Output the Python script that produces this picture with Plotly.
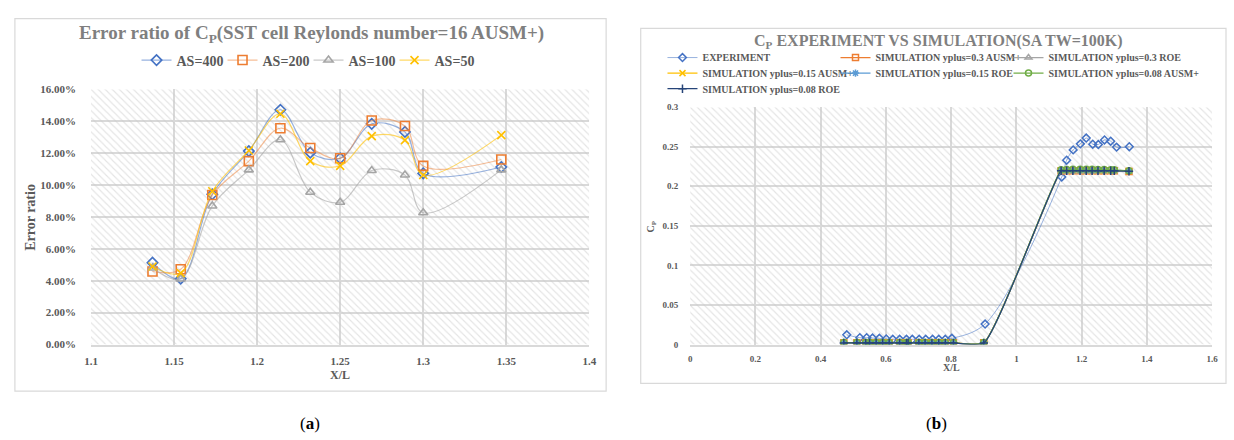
import plotly.graph_objects as go

W, H = 1234, 440

# ---------------- (a) Error ratio of Cp ----------------
x_a = [1.137, 1.154, 1.173, 1.195, 1.214, 1.232, 1.250, 1.269, 1.289, 1.300, 1.347]
as400 = [5.13, 4.13, 9.42, 12.13, 14.72, 12.03, 11.68, 13.84, 13.33, 10.73, 11.13]
as200 = [4.58, 4.72, 9.38, 11.50, 13.56, 12.32, 11.68, 14.05, 13.70, 11.20, 11.60]
as100 = [4.80, 4.11, 8.69, 10.95, 12.84, 9.55, 8.92, 10.91, 10.63, 8.26, 10.95]
as50 = [4.89, 4.48, 9.61, 12.17, 14.47, 11.50, 11.20, 13.07, 12.82, 10.63, 13.13]
names_a = ["AS=400", "AS=200", "AS=100", "AS=50"]
xrange_a = [1.1, 1.4]
yrange_a = [0.0, 0.16]

# ---------------- (b) Cp experiment vs simulation ----------------
x_exp = [0.480, 0.520, 0.541, 0.559, 0.580, 0.601, 0.621, 0.642, 0.663, 0.681,
         0.702, 0.722, 0.743, 0.762, 0.782, 0.802, 0.904,
         1.139, 1.154, 1.174, 1.196, 1.214, 1.234, 1.251, 1.270, 1.289, 1.307, 1.346]
cp_exp = [0.0123, 0.0086, 0.0086, 0.0082, 0.0078, 0.0070, 0.0066, 0.0066, 0.0066, 0.0066,
          0.0066, 0.0066, 0.0066, 0.0066, 0.0066, 0.0078, 0.0259,
          0.2118, 0.2330, 0.2460, 0.2536, 0.2610, 0.2532, 0.2528, 0.2585, 0.2570, 0.2495, 0.2500]

x_sim = [0.471, 0.511, 0.538, 0.550, 0.570, 0.590, 0.610, 0.642, 0.663, 0.668,
         0.701, 0.720, 0.741, 0.762, 0.782, 0.807, 0.900,
         1.137, 1.154, 1.173, 1.195, 1.214, 1.232, 1.250, 1.269, 1.289, 1.300, 1.345]
cp_y03_ausm = [0.0022, 0.0022, 0.0022, 0.0022, 0.0022, 0.0022, 0.0022, 0.0022, 0.0022, 0.0022,
               0.0022, 0.0022, 0.0022, 0.0022, 0.0022, 0.0022, 0.0022,
               0.2196, 0.2196, 0.2197, 0.2197, 0.2197, 0.2197, 0.2196, 0.2196, 0.2195, 0.2195, 0.2188]
cp_y03_roe = [0.0020, 0.0020, 0.0020, 0.0020, 0.0020, 0.0020, 0.0020, 0.0020, 0.0020, 0.0020,
              0.0020, 0.0020, 0.0020, 0.0020, 0.0020, 0.0020, 0.0020,
              0.2190, 0.2191, 0.2191, 0.2191, 0.2191, 0.2191, 0.2190, 0.2190, 0.2190, 0.2189, 0.2185]
cp_y015_ausm = [0.0021, 0.0021, 0.0021, 0.0021, 0.0021, 0.0021, 0.0021, 0.0021, 0.0021, 0.0021,
                0.0021, 0.0021, 0.0021, 0.0021, 0.0021, 0.0021, 0.0021,
                0.2200, 0.2201, 0.2202, 0.2202, 0.2202, 0.2202, 0.2201, 0.2201, 0.2200, 0.2199, 0.2192]
cp_y015_roe = [0.0020, 0.0020, 0.0020, 0.0020, 0.0020, 0.0020, 0.0020, 0.0020, 0.0020, 0.0020,
               0.0020, 0.0020, 0.0020, 0.0020, 0.0020, 0.0020, 0.0020,
               0.2197, 0.2198, 0.2198, 0.2198, 0.2198, 0.2198, 0.2197, 0.2197, 0.2196, 0.2196, 0.2190]
cp_y008_ausm = [0.0024, 0.0024, 0.0024, 0.0024, 0.0024, 0.0024, 0.0024, 0.0024, 0.0024, 0.0024,
                0.0024, 0.0024, 0.0024, 0.0024, 0.0024, 0.0024, 0.0024,
                0.2208, 0.2212, 0.2215, 0.2215, 0.2216, 0.2215, 0.2213, 0.2212, 0.2210, 0.2208, 0.2196]
cp_y008_roe = [0.0020, 0.0020, 0.0020, 0.0020, 0.0020, 0.0020, 0.0020, 0.0020, 0.0020, 0.0020,
               0.0020, 0.0020, 0.0020, 0.0020, 0.0020, 0.0020, 0.0020,
               0.2196, 0.2197, 0.2197, 0.2197, 0.2197, 0.2197, 0.2196, 0.2196, 0.2196, 0.2195, 0.2190]
names_b = ["EXPERIMENT",
           "SIMULATION yplus=0.3 AUSM+", "SIMULATION yplus=0.3 ROE",
           "SIMULATION yplus=0.15 AUSM+", "SIMULATION yplus=0.15 ROE",
           "SIMULATION yplus=0.08 AUSM+", "SIMULATION yplus=0.08 ROE"]
xrange_b = [0.0, 1.6]
yrange_b = [0.0, 0.3]

# ---------------- styling helpers ----------------
SERIF = "Liberation Serif"
GRID = "#d9d9d9"
TXT = "#595959"
TTL = "#7f7f7f"


def px_x(p):
    return p / W


def px_y(p):
    return 1 - p / H


fig = go.Figure()


def hatch(xa, ya, xr, yr):
    fig.add_trace(go.Scatter(
        x=[xr[0], xr[1], xr[1], xr[0], xr[0]], y=[yr[0], yr[0], yr[1], yr[1], yr[0]],
        xaxis=xa, yaxis=ya, mode="lines", line=dict(width=0), fill="toself",
        fillcolor="rgba(0,0,0,0)",
        fillpattern=dict(shape="\\", fgcolor="#c9c9c9", bgcolor="rgba(0,0,0,0)",
                         size=5, solidity=0.22, fillmode="overlay"),
        hoverinfo="skip", showlegend=False))


# ---- chart (a)
hatch("x", "y", xrange_a, yrange_a)
style_a = [
    ("#4472C4", "rgba(68,114,196,0.55)", "diamond-open", 8),
    ("#ED7D31", "rgba(237,125,49,0.5)", "square-open", 9),
    ("#A5A5A5", "rgba(165,165,165,0.6)", "triangle-up-open", 8),
    ("#FFC000", "rgba(255,192,0,0.6)", "x-thin-open", 8),
]
for name, vals, (mc, lc, sym, sz) in zip(names_a, [as400, as200, as100, as50], style_a):
    fig.add_trace(go.Scatter(
        x=x_a, y=[v / 100 for v in vals], name=name, xaxis="x", yaxis="y",
        mode="lines+markers", line=dict(color=lc, width=1.2, shape="spline", smoothing=1),
        marker=dict(symbol=sym, size=sz, color=mc, line=dict(color=mc, width=1.6)),
        legend="legend"))

# ---- chart (b): one small legend per legend cell (3 columns)
cells_b = ["legend2", "legend3", "legend4", "legend5", "legend6", "legend7", "legend8"]
hatch("x2", "y2", xrange_b, yrange_b)
fig.add_trace(go.Scatter(
    x=x_exp, y=cp_exp, name=names_b[0], xaxis="x2", yaxis="y2", mode="lines+markers",
    line=dict(color="rgba(68,114,196,0.55)", width=1, shape="spline", smoothing=1),
    marker=dict(symbol="diamond-open", size=6, color="#4472C4", line=dict(color="#4472C4", width=1.5)),
    legend=cells_b[0]))
style_b = [
    ("#ED7D31", "square-open", 6),
    ("#A5A5A5", "triangle-up-open", 6),
    ("#FFC000", "x-thin-open", 6),
    ("#5B9BD5", "asterisk-open", 6),
    ("#70AD47", "circle-open", 6),
    ("#264478", "cross-thin-open", 6),
]
sims = [cp_y03_ausm, cp_y03_roe, cp_y015_ausm, cp_y015_roe, cp_y008_ausm, cp_y008_roe]
for name, vals, (c, sym, sz), lg in zip(names_b[1:], sims, style_b, cells_b[1:]):
    fig.add_trace(go.Scatter(
        x=x_sim, y=vals, name=name, xaxis="x2", yaxis="y2", mode="lines+markers",
        line=dict(color=c, width=1.2, shape="spline", smoothing=0.5),
        marker=dict(symbol=sym, size=sz, color=c, line=dict(color=c, width=1.5)),
        legend=lg))

tick_a = dict(family=SERIF, size=11, color=TXT, weight="bold")
tick_b = dict(family=SERIF, size=9, color=TXT, weight="bold")

axis_common = dict(showgrid=True, gridcolor=GRID, gridwidth=1.5, zeroline=False,
                   ticks="", fixedrange=True)

fig.update_layout(
    width=W, height=H, margin=dict(l=0, r=0, t=0, b=0),
    paper_bgcolor="white", plot_bgcolor="white",
    xaxis=dict(domain=[px_x(85), px_x(589)], range=xrange_a, dtick=0.05, tick0=1.1,
               anchor="y", tickfont=tick_a, ticklabelstandoff=6,
               showline=True, linecolor=GRID, linewidth=1.5, **axis_common),
    yaxis=dict(domain=[px_y(348), px_y(85.7)], range=yrange_a, dtick=0.02, tick0=0,
               tickformat=".2%", anchor="x", tickfont=tick_a, ticklabelstandoff=14,
               **axis_common),
    xaxis2=dict(domain=[px_x(691), px_x(1219)], range=xrange_b, dtick=0.2, tick0=0,
                anchor="y2", tickfont=tick_b, ticklabelstandoff=5,
                showline=True, linecolor=GRID, linewidth=1.5, **axis_common),
    yaxis2=dict(domain=[px_y(348), px_y(104)], range=yrange_b, dtick=0.05, tick0=0,
                anchor="x2", tickfont=tick_b, ticklabelstandoff=11, **axis_common),
    legend=dict(orientation="h", x=px_x(131), xanchor="left", y=px_y(56), yanchor="middle",
                font=dict(family=SERIF, size=14, color=TXT, weight="bold"),
                entrywidth=41, entrywidthmode="pixels", bgcolor="rgba(0,0,0,0)",
                itemclick=False, itemdoubleclick=False),
    showlegend=True,
)
leg_b = dict(orientation="h", xanchor="left", yanchor="middle",
             font=dict(family=SERIF, size=10, color=TXT, weight="bold"),
             bgcolor="rgba(0,0,0,0)", itemclick=False, itemdoubleclick=False)
col_x = [663, 838, 1013]
row_y = [53, 69, 85]
for i, lg in enumerate(cells_b):
    fig.update_layout({lg: dict(x=px_x(col_x[i % 3]), y=px_y(row_y[i // 3]), **leg_b)})

# frames around each chart
fig.add_shape(type="rect", xref="paper", yref="paper",
              x0=px_x(8), x1=px_x(606), y0=px_y(396), y1=px_y(13),
              line=dict(color=GRID, width=1.2), layer="below")
fig.add_shape(type="rect", xref="paper", yref="paper",
              x0=px_x(641), x1=px_x(1233), y0=px_y(388), y1=px_y(23),
              line=dict(color=GRID, width=1.2), layer="below")


def ann(text, x, y, size, color, angle=0, bold=True, family=SERIF):
    fig.add_annotation(text=text, xref="paper", yref="paper", x=px_x(x), y=px_y(y),
                       xanchor="center", yanchor="middle", showarrow=False, textangle=angle,
                       font=dict(family=family, size=size, color=color,
                                 weight="bold" if bold else "normal"))


# titles
ann("Error ratio of C<sub>P</sub>(SST cell Reylonds number=16 AUSM+)", 308, 29, 19, TTL)
ann("C<sub>P</sub> EXPERIMENT VS SIMULATION(SA TW=100K)", 942, 36, 16, TTL)
# axis titles
ann("Error ratio", 23, 217, 14, TXT, angle=-90)
ann("X/L", 337, 379, 12, TXT)
ann("C<sub>P</sub>", 652, 227, 10, TXT, angle=-90)
ann("X/L", 955, 372, 10, TXT)
# panel captions
ann("(<b>a</b>)", 306, 429, 17, "black", bold=False)
ann("(<b>b</b>)", 940, 429, 17, "black", bold=False)

fig.write_html("out.html")
